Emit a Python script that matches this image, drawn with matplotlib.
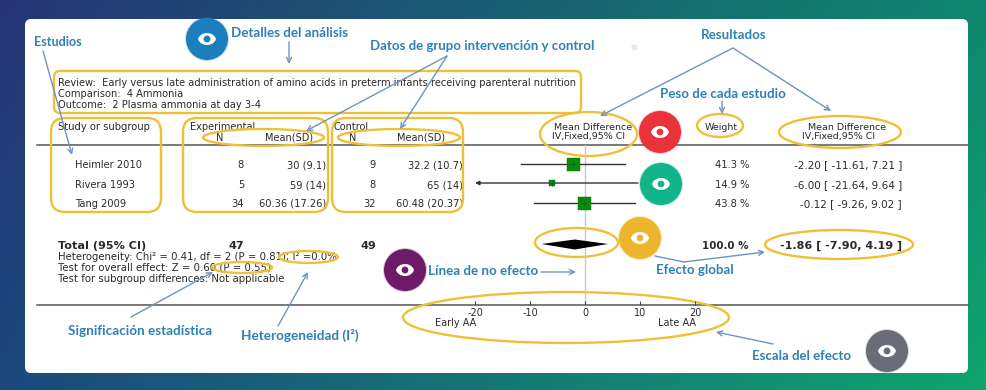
import numpy as np
import matplotlib
matplotlib.use("Agg")
import matplotlib.pyplot as plt
from matplotlib.patches import FancyBboxPatch, Ellipse, Circle, PathPatch, Polygon
from matplotlib.path import Path

plt.rcParams["axes.unicode_minus"] = False

# ---------- data ----------
studies = ["Heimler 2010", "Rivera 1993", "Tang 2009"]
exp_n = [8, 5, 34]
exp_mean_sd = ["30 (9.1)", "59 (14)", "60.36 (17.26)"]
ctl_n = [9, 8, 32]
ctl_mean_sd = ["32.2 (10.7)", "65 (14)", "60.48 (20.37)"]
weights = ["41.3 %", "14.9 %", "43.8 %"]
md = [-2.20, -6.00, -0.12]
ci_low = [-11.61, -21.64, -9.26]
ci_high = [7.21, 9.64, 9.02]
total_exp_n = 47
total_ctl_n = 49
total_weight = "100.0 %"
total_md = -1.86
total_low = -7.90
total_high = 4.19
x_ticks = [-20, -10, 0, 10, 20]

BLUE = "#2f80b4"
YEL = "#efc035"
ARW = "#6f94bd"
TXT = "#2a2a2a"

fig = plt.figure(figsize=(9.86, 3.90), dpi=100)
ax = fig.add_axes([0, 0, 1, 1])
ax.set_xlim(0, 986)
ax.set_ylim(390, 0)
ax.axis("off")

# background gradient
u, v = np.meshgrid(np.linspace(0, 1, 200), np.linspace(0, 1, 80))
tl, tr, bl, br = [np.array(c) / 255 for c in [(38, 52, 118), (15, 135, 110), (28, 72, 125), (15, 165, 110)]]
grad = ((1 - u) * (1 - v))[..., None] * tl + (u * (1 - v))[..., None] * tr + ((1 - u) * v)[..., None] * bl + (u * v)[..., None] * br
ax.imshow(grad, extent=(0, 986, 390, 0), aspect="auto", zorder=0)
ax.add_patch(FancyBboxPatch((25, 19), 943, 354, boxstyle="round,pad=0,rounding_size=6", fc="white", ec="none", zorder=1))
ax.set_xlim(0, 986)
ax.set_ylim(390, 0)

# rules
ax.plot([37, 968], [145, 145], color="#555555", lw=1.1, zorder=2)
ax.plot([37, 968], [305, 305], color="#555555", lw=1.1, zorder=2)


def t(x, y, s, ha="left", size=7.1, weight="normal", color=TXT, family="DejaVu Sans", z=6):
    ax.text(x, y, s, ha=ha, va="center", fontsize=size, fontweight=weight, color=color, family=family, zorder=z)


# header block
t(58, 83, "Review:  Early versus late administration of amino acids in preterm infants receiving parenteral nutrition")
t(58, 94, "Comparison:  4 Ammonia")
t(58, 105, "Outcome:  2 Plasma ammonia at day 3-4")

t(58, 127, "Study or subgroup", size=7.2)
t(190, 127, "Experimental", size=7)
t(334, 127, "Control", size=7)
t(220, 138, "N", ha="center", size=7)
t(313, 138, "Mean(SD)", ha="right", size=7)
t(353, 138, "N", ha="center", size=7)
t(445, 138, "Mean(SD)", ha="right", size=7)
t(593, 127, "Mean Difference", ha="center", size=6.8)
t(589, 137, "IV,Fixed,95% CI", ha="center", size=6.8)
t(721, 127, "Weight", ha="center", size=6.8)
t(847, 127, "Mean Difference", ha="center", size=6.8)
t(839, 137, "IV,Fixed,95% CI", ha="center", size=6.8)

row_y = [165, 185, 204]
for i, y in enumerate(row_y):
    t(75, y, studies[i])
    t(244, y, str(exp_n[i]), ha="right")
    t(326, y, exp_mean_sd[i], ha="right")
    t(376, y, str(ctl_n[i]), ha="right")
    t(463, y, ctl_mean_sd[i], ha="right")
    t(749, y, weights[i], ha="right")
    t(902, y, f"{md[i]:.2f} [ {ci_low[i]:.2f}, {ci_high[i]:.2f} ]", ha="right", size=7.5)

t(58, 246, "Total (95% CI)", weight="bold", size=8.1)
t(236, 246, str(total_exp_n), ha="center", weight="bold", size=8.1)
t(368, 246, str(total_ctl_n), ha="center", weight="bold", size=8.1)
t(748, 246, total_weight, ha="right", weight="bold", size=7.4)
t(902, 246, f"{total_md:.2f} [ {total_low:.2f}, {total_high:.2f} ]", ha="right", weight="bold", size=8)
t(58, 257, "Heterogeneity: Chi² = 0.41, df = 2 (P = 0.81); I² =0.0%", size=7.3)
t(58, 268, "Test for overall effect: Z = 0.60 (P = 0.55)", size=7.3)
t(58, 279, "Test for subgroup differences: Not applicable", size=7.3)

# forest plot axes: x scale from the data, rows in figure pixels
fx0, fx1 = 447.5, 722.5
fy0, fy1 = 145, 305
fa = fig.add_axes([fx0 / 986, 1 - fy1 / 390, (fx1 - fx0) / 986, (fy1 - fy0) / 390], facecolor="none", zorder=3)
fa.set_xlim(-25, 25)
fa.set_ylim(fy1, fy0)
for s in fa.spines.values():
    s.set_visible(False)
fa.set_yticks([])
fa.set_xticks(x_ticks)
fa.tick_params(axis="x", direction="in", length=3, width=0.8, color="#444444", labelsize=7, labelcolor=TXT, pad=2)
fa.axvline(0, color="#c9c9c9", lw=1, zorder=1)
axis_min = x_ticks[0]
marker_px = [13, 6, 13]
line_y = [164, 183, 203]
for i, y in enumerate(line_y):
    if ci_low[i] < axis_min:
        fa.annotate("", xy=(axis_min, y), xytext=(ci_high[i], y),
                    arrowprops=dict(arrowstyle="-|>", color="#333333", lw=1, mutation_scale=6, shrinkA=0, shrinkB=0))
    else:
        fa.plot([ci_low[i], ci_high[i]], [y, y], color="#333333", lw=1, zorder=2)
    fa.plot(md[i], y, marker="s", ms=marker_px[i] * 0.72, mfc="#0a8a0a", mec="#0a6a0a", mew=0.3, zorder=3)
    fa.plot([md[i]], [y], marker="+", ms=4, color="#063", mew=0.6, zorder=4)
fa.add_patch(Polygon([(total_low, 244), (total_md, 239.5), (total_high, 244), (total_md, 249.5)], closed=True, fc="black", ec="none", zorder=3))
fa.text(-27.3, 323, "Early AA", ha="left", va="center", fontsize=7, color=TXT, family="DejaVu Sans", clip_on=False)
fa.text(13.2, 323, "Late AA", ha="left", va="center", fontsize=7, color=TXT, family="DejaVu Sans", clip_on=False)

# highlight boxes
for x0, y0, x1, y1, r in [(54, 71, 581, 113, 6), (51, 118, 161, 212, 14), (183, 118, 328, 212, 14), (332, 118, 463, 212, 14)]:
    ax.add_patch(FancyBboxPatch((x0, y0), x1 - x0, y1 - y0, boxstyle=f"round,pad=0,rounding_size={r}",
                                fc="none", ec=YEL, lw=1.7, zorder=7))
for x0, x1, y0, y1 in [(203, 324, 129, 146), (338, 460, 129, 146), (540, 637, 112, 156), (697, 743, 114, 137),
                       (779, 901, 116, 148), (535, 618, 228, 257), (765, 913, 230, 259), (403, 729, 292, 343),
                       (279, 338, 251, 263), (212, 272, 262, 273)]:
    ax.add_patch(Ellipse(((x0 + x1) / 2, (y0 + y1) / 2), x1 - x0, y1 - y0, fc="none", ec=YEL, lw=1.7, zorder=7))


# eye badges
def eye(cx, cy, col, r=21):
    ax.add_patch(Circle((cx, cy), r + 1, fc=col, ec="none", alpha=0.25, zorder=8))
    ax.add_patch(Circle((cx, cy), r, fc=col, ec="none", zorder=8))
    w, h = 9, 8
    k = w * 0.72
    verts = [(cx - w, cy), (cx - k, cy - h), (cx + k, cy - h), (cx + w, cy),
             (cx + k, cy + h), (cx - k, cy + h), (cx - w, cy), (cx - w, cy)]
    codes = [Path.MOVETO, Path.CURVE4, Path.CURVE4, Path.CURVE4, Path.CURVE4, Path.CURVE4, Path.CURVE4, Path.CLOSEPOLY]
    ax.add_patch(PathPatch(Path(verts, codes), fc="white", ec="none", zorder=9))
    ax.add_patch(Circle((cx, cy), 3.4, fc=col, ec="none", zorder=10))


for cx, cy, col in [(207, 39, "#1b7fbd"), (660, 132, "#e8343a"), (661, 184, "#12b48a"),
                    (640, 238, "#eeb52e"), (405, 270, "#6d1b66"), (887, 351, "#6a6d78")]:
    eye(cx, cy, col)

# pointers
arrows = [((289, 42), (289, 64)), ((43, 51), (72, 155)), ((447, 56), (306, 131)), ((447, 56), (400, 129)),
          ((733, 48), (600, 116)), ((733, 48), (831, 111)), ((722, 101), (722, 114)), ((131, 317), (213, 272)),
          ((278, 326), (308, 272)), ((541, 272), (576, 272)), ((684, 262), (765, 252)), ((773, 344), (716, 332))]
for a, b in arrows:
    ax.annotate("", xy=b, xytext=a, zorder=11,
                arrowprops=dict(arrowstyle="->", color=ARW, lw=1, mutation_scale=9, shrinkA=0, shrinkB=0))
ax.plot([655, 684], [256, 262], color=ARW, lw=1, zorder=11)
ax.scatter([634], [47], s=12, color="#e8e8e8", zorder=2)

# callout labels
LF = "Lato"
for x, y, s, fs in [(34, 42, "Estudios", 9.1), (231, 33, "Detalles del análisis", 9.6),
                    (370, 46, "Datos de grupo intervención y control", 9.5),
                    (701, 35, "Resultados", 9.6), (660, 94, "Peso de cada estudio", 9.6),
                    (68, 331, "Significación estadística", 9.7), (241, 335, "Heterogeneidad (I²)", 9.7),
                    (428, 271, "Línea de no efecto", 9.6), (656, 270, "Efecto global", 9.5),
                    (752, 356, "Escala del efecto", 9.5)]:
    t(x, y, s, size=fs, weight="bold", color=BLUE, family=LF, z=12)

fig.savefig("out.png", dpi=100)
